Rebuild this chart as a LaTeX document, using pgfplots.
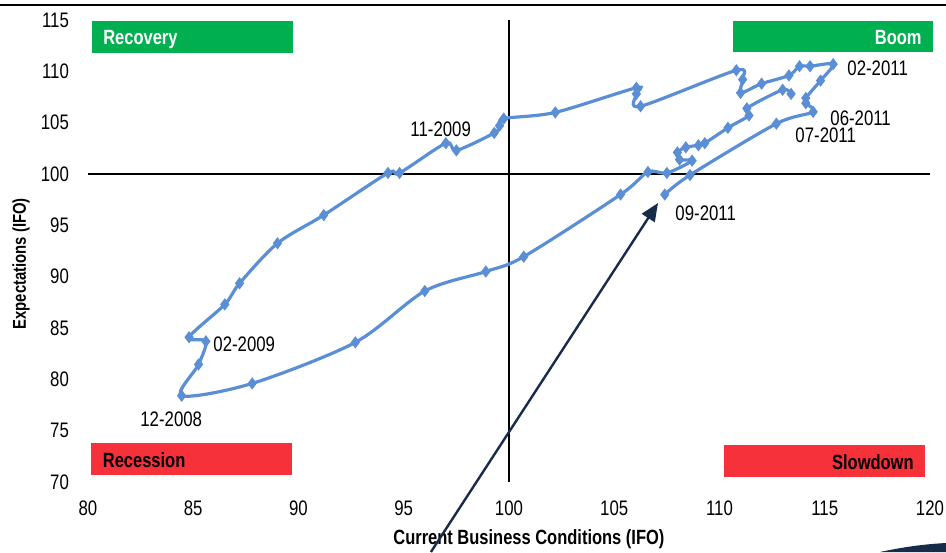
\documentclass[border=0pt]{standalone}
\usepackage{fontspec}
\setmainfont{Liberation Sans}[FakeStretch=0.80]
\usepackage{pgfplots}
\pgfplotsset{compat=1.18}
\usetikzlibrary{arrows.meta}
\definecolor{serblue}{HTML}{5A8FD6}
\definecolor{boxgreen}{HTML}{00B050}
\definecolor{boxred}{HTML}{F73139}
\definecolor{navy}{HTML}{172B4A}
\begin{document}
\begin{tikzpicture}
\useasboundingbox (-44pt,-35pt) rectangle (429pt,241pt);
\begin{axis}[
  at={(0,0)}, anchor=south west,
  scale only axis, width=421pt, height=231pt,
  xmin=80, xmax=120, ymin=70, ymax=115,
  xtick={80,85,...,120}, ytick={70,75,...,115},
  axis x line=bottom, axis y line=left,
  axis line style={draw=none},
  major tick length=0pt,
  tick label style={font=\fontsize{10.5}{12}\selectfont},
  xticklabel style={yshift=-6pt},
  yticklabel style={xshift=-6pt},
  /pgf/number format/assume math mode=true,
  clip=false,
]
% quadrant boxes
\fill[boxgreen] (axis cs:80.19,114.9) rectangle (axis cs:89.73,111.79);
\fill[boxgreen] (axis cs:110.63,114.9) rectangle (axis cs:120.12,111.88);
\fill[boxred] (axis cs:80.12,73.81) rectangle (axis cs:89.71,70.70);
\fill[boxred] (axis cs:110.20,73.62) rectangle (axis cs:119.74,70.50);
\node[anchor=base west, inner sep=0pt, text=white, font=\fontsize{10.3}{12}\selectfont\bfseries] at (axis cs:80.71,112.66) {Recovery};
\node[anchor=base east, inner sep=0pt, text=white, font=\fontsize{10.3}{12}\selectfont\bfseries] at (axis cs:119.62,112.66) {Boom};
\node[anchor=base west, inner sep=0pt, text=black, font=\fontsize{10.3}{12}\selectfont\bfseries] at (axis cs:80.69,71.39) {Recession};
\node[anchor=base east, inner sep=0pt, text=black, font=\fontsize{10.3}{12}\selectfont\bfseries] at (axis cs:119.24,71.17) {Slowdown};
% reference lines
\draw[black, line width=0.9pt] (axis cs:80,100) -- (axis cs:120,100);
\draw[black, line width=0.9pt] (axis cs:100,70) -- (axis cs:100,115);
% data
\addplot[serblue, line width=1.6pt, smooth, tension=0.5, mark=diamond*, mark size=2.6pt, mark options={fill=serblue, draw=serblue, line width=0.6pt}] coordinates {
(113.4,107.8) (113.0,108.2) (111.3,106.4) (111.4,105.7) (110.4,104.5) (109.3,103.0) (109.0,102.8) (108.4,102.6) (108.0,102.1) (108.1,101.4) (108.7,101.3) (107.5,100.1) (106.6,100.2) (105.3,98.0) (100.7,91.95) (98.9,90.5) (96.0,88.6) (92.7,83.6) (87.8,79.6) (84.45,78.4) (85.25,81.45) (85.6,83.7) (84.8,84.1) (86.5,87.3) (87.2,89.35) (89.0,93.25) (91.2,96.0) (94.25,100.1) (94.8,100.1) (97.0,103.0) (97.5,102.3) (99.3,104.0) (99.55,104.7) (99.75,105.4) (102.2,106.0) (106.05,108.4) (106.05,107.8) (106.25,106.6) (110.8,110.1) (111.1,109.2) (111.0,107.9) (112.0,108.8) (113.3,109.6) (113.8,110.5) (114.3,110.5) (115.4,110.7) (114.8,109.1) (114.1,107.4) (114.1,106.9) (114.45,106.05) (112.7,104.9) (108.6,99.9) (107.4,98.0)
};
% date labels
\begin{scope}[every node/.style={anchor=base west, inner sep=0pt, font=\fontsize{10.5}{12}\selectfont}]
\node at (axis cs:82.47,75.39) {12-2008};
\node at (axis cs:85.94,82.69) {02-2009};
\node at (axis cs:95.30,103.63) {11-2009};
\node at (axis cs:116.06,109.55) {02-2011};
\node at (axis cs:115.25,104.77) {06-2011};
\node at (axis cs:113.59,103.05) {07-2011};
\node at (axis cs:107.89,95.52) {09-2011};
\end{scope}
% axis titles
\node[anchor=base west, inner sep=0pt, font=\fontsize{10.3}{12}\selectfont\bfseries] at (axis cs:94.49,63.87) {Current Business Conditions (IFO)};
\node[anchor=base west, rotate=90, inner sep=0pt, font=\fontsize{9.3}{11}\selectfont\bfseries] at (axis cs:77.05,84.81) {Expectations (IFO)};
% arrow
\draw[navy, line width=1.2pt, -{Triangle[length=9pt,width=7.5pt]}] (axis cs:96.29,63.18) -- (axis cs:107.08,97.18);
\end{axis}
% top border and decoration
\draw[black, line width=1.2pt] (-44pt,238.5pt) -- (429pt,238.5pt);
\fill[navy] (396pt,-35pt) .. controls (410pt,-32pt) and (420pt,-31pt) .. (429pt,-30.5pt) -- (429pt,-35pt) -- cycle;
\end{tikzpicture}
\end{document}
